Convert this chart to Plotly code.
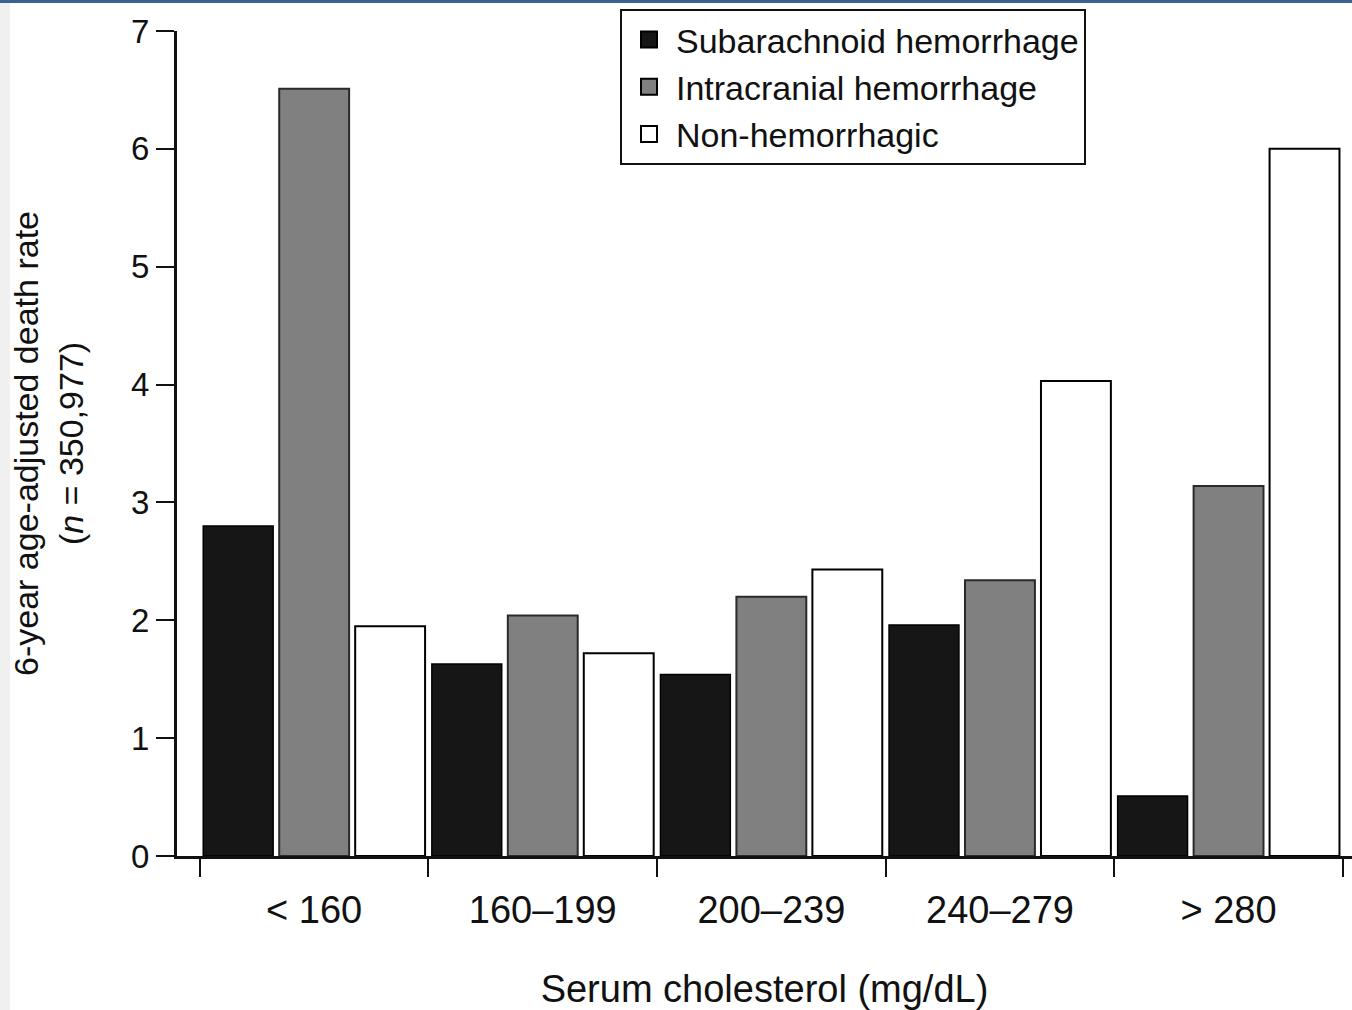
import plotly.graph_objects as go

categories = ["< 160", "160–199", "200–239", "240–279", "> 280"]
subarachnoid = [2.80, 1.63, 1.54, 1.96, 0.51]
intracranial = [6.51, 2.04, 2.20, 2.34, 3.14]
non_hemorrhagic = [1.95, 1.72, 2.43, 4.03, 6.00]
y_ticks = [0, 1, 2, 3, 4, 5, 6, 7]

series_names = ["Subarachnoid hemorrhage", "Intracranial hemorrhage", "Non-hemorrhagic"]
fills = ["#161616", "#808080", "#ffffff"]
edges = ["#000000", "#2a2a2a", "#000000"]
edge_w = [1.5, 2, 2]

FONT = "Liberation Sans, Arial, Helvetica, sans-serif"
INK = "#111111"

fig = go.Figure()
for name, vals, fc, ec, ew in zip(series_names, [subarachnoid, intracranial, non_hemorrhagic],
                                   fills, edges, edge_w):
    fig.add_trace(go.Bar(name=name, x=categories, y=vals, legendgroup=name, showlegend=False,
                         marker=dict(color=fc, line=dict(color=ec, width=ew))))
# legend entries with larger square swatches
for name, fc in zip(series_names, fills):
    fig.add_trace(go.Scatter(name=name, x=[None], y=[None], mode="markers", legendgroup=name,
                             marker=dict(symbol="square", size=16, color=fc,
                                         line=dict(color="#000000", width=2)),
                             hoverinfo="skip"))

W, H = 1352, 1010
ML, MR, MT, MB = 177, 0, 31, 154
pw = W - ML - MR
ph = H - MT - MB

def px_x(p):
    return (p - ML) / pw

def px_y(p):
    return (H - MB - p) / ph

fig.update_layout(
    width=W, height=H,
    margin=dict(l=ML, r=MR, t=MT, b=MB, pad=0),
    paper_bgcolor="white", plot_bgcolor="white",
    font=dict(family=FONT, color=INK, size=33),
    barmode="group", bargap=0.003, bargroupgap=0.08,
    showlegend=True,
    legend=dict(
        x=px_x(620), y=px_y(9), xanchor="left", yanchor="top",
        bordercolor="#111111", borderwidth=2, bgcolor="white",
        font=dict(size=34, family=FONT, color=INK),
        itemwidth=44, tracegroupgap=0,
    ),
    xaxis=dict(
        type="category", range=[-0.6, 4.54],
        showline=True, linecolor="#111111", linewidth=3,
        ticks="outside", tickson="boundaries", ticklen=18, tickwidth=2, tickcolor="#111111",
        tickfont=dict(size=38, family=FONT, color=INK), ticklabelstandoff=18,
        showgrid=False, zeroline=False,
        title=dict(text="Serum cholesterol (mg/dL)", font=dict(size=38, family=FONT, color=INK), standoff=48),
    ),
    yaxis=dict(
        range=[0, 7], tickvals=y_ticks,
        showline=True, linecolor="#111111", linewidth=3,
        ticks="outside", ticklen=18, tickwidth=2, tickcolor="#111111",
        tickfont=dict(size=33, family=FONT, color=INK),
        showgrid=False, zeroline=False,
        title=dict(text="6-year age-adjusted death rate<br>(<i>n</i> = 350,977)",
                   font=dict(size=34, family=FONT, color=INK), standoff=38),
    ),
    shapes=[
        dict(type="rect", xref="paper", yref="paper", x0=px_x(0), x1=px_x(10), y0=px_y(H), y1=px_y(3),
             fillcolor="#f0f0f0", line=dict(width=0), layer="below"),
        dict(type="rect", xref="paper", yref="paper", x0=px_x(0), x1=px_x(W), y0=px_y(3), y1=px_y(0),
             fillcolor="#3d5f93", line=dict(width=0), layer="below"),
    ],
)

fig.write_html("out.html", config={"displayModeBar": False},
               post_script="document.body.style.margin='0px';")
